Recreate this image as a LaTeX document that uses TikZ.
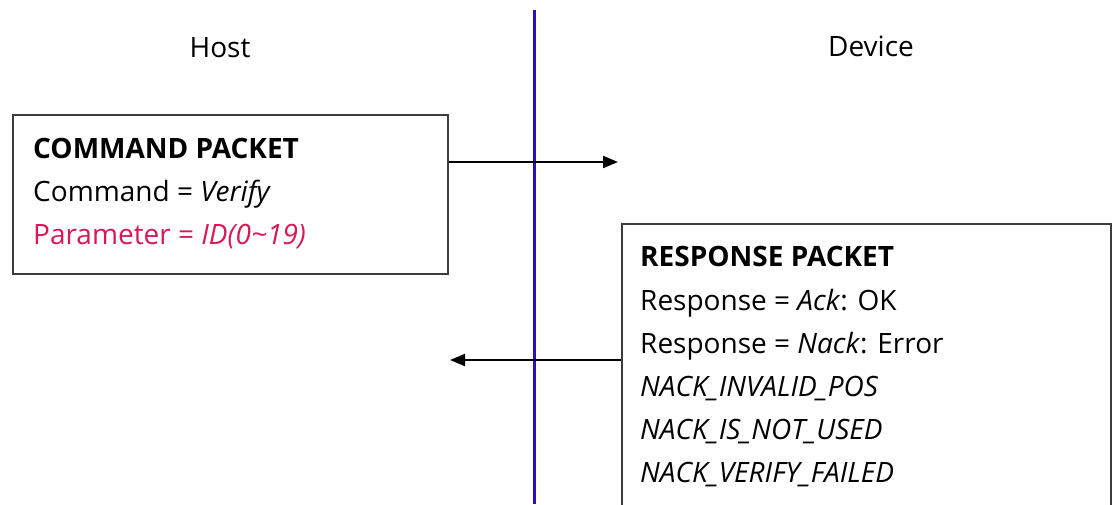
\documentclass[tikz,border=0pt]{standalone}
\usepackage{fontspec}
\setmainfont{Open Sans}
\usetikzlibrary{arrows.meta}
\definecolor{lifeline}{RGB}{40,20,180}
\definecolor{paramred}{RGB}{215,25,85}
\definecolor{boxline}{RGB}{60,60,60}
\tikzset{
  x=1pt, y=-1pt,
  pkt/.style={draw=boxline, line width=1.6pt, fill=none, inner sep=0pt, anchor=north west},
  txt/.style={anchor=base west, inner sep=0pt, font=\fontsize{28}{32}\selectfont},
  hdr/.style={txt, font=\fontsize{28}{32}\selectfont\bfseries},
  lbl/.style={anchor=base, inner sep=0pt, font=\fontsize{28}{32}\selectfont},
  msg/.style={line width=2pt, -{Triangle[length=15pt,width=12pt]}},
}
\begin{document}
\begin{tikzpicture}
\useasboundingbox (0,0) rectangle (1113,504);
\fill[white] (0,0) rectangle (1113,504);
% labels
\node[lbl] (host) at (220,57) {Host};
\node[lbl] (device) at (871,56) {Device};
% lifeline divider
\coordinate (ltop) at (534,10);
\coordinate (lbot) at (534,504);
\draw[lifeline, line width=3pt] (ltop) -- (lbot);
% command packet
\node[pkt, minimum width=435pt, minimum height=159pt] (cmd) at (12,114) {};
\node[hdr] (c1) at (33,158) {COMMAND PACKET};
\node[txt] (c2) at (33,201) {Command = \textit{Verify}};
\node[txt, text=paramred] (c3) at (33,244) {Parameter = \textit{ID(0\textasciitilde 19)}};
% response packet
\node[pkt, minimum width=489pt, minimum height=300pt] (resp) at (621,223) {};
\node[hdr] (r1) at (640,266) {RESPONSE PACKET};
\node[txt] (r2) at (640,310) {Response = \textit{Ack}: OK};
\node[txt] (r3) at (640,353) {Response = \textit{Nack}: Error};
\node[txt] (r4) at (640,396) {\textit{NACK\_INVALID\_POS}};
\node[txt] (r5) at (640,439) {\textit{NACK\_IS\_NOT\_USED}};
\node[txt] (r6) at (640,482) {\textit{NACK\_VERIFY\_FAILED}};
% messages
\coordinate (m1end) at (618,162);
\coordinate (m2end) at (450,360);
\draw[msg] (cmd.east |- m1end) -- (m1end);
\draw[msg] (resp.west |- m2end) -- (m2end);
\end{tikzpicture}
\end{document}
